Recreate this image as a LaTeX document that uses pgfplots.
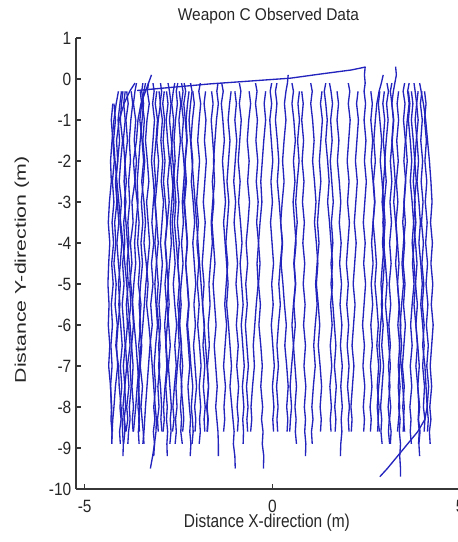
\documentclass[border=0pt]{standalone}
\usepackage{pgfplots}
\usepackage{pgfplotstable}
\pgfplotsset{compat=1.18}
\usepackage{fontspec}
\setmainfont{Liberation Sans}
\definecolor{trajblue}{RGB}{35,35,190}
\definecolor{axgray}{RGB}{55,55,55}

% one row per trajectory: x position at the y levels given in row "y"
\pgfplotstableread{
traj c0 c1 c2 c3 c4 c5 c6 c7 c8 c9 c10 c11 c12 c13 c14 c15 c16 c17 c18 c19 c20 c21 c22 c23 c24 c25
y 0.3 0.1 -0.1 -0.3 -0.6 -1 -1.5 -2 -2.5 -3 -3.5 -4 -4.5 -5 -5.5 -6 -6.5 -7 -7.5 -8 -8.3 -8.6 -8.9 -9.2 -9.5 -9.7
t1 nan nan nan -4.10 -4.16 -4.22 -4.27 -4.31 -4.29 -4.34 -4.37 -4.33 -4.36 -4.38 -4.35 -4.37 -4.33 -4.36 -4.31 -4.29 -4.27 -4.26 nan nan nan nan
t2 nan nan -3.66 -3.80 -3.95 -4.08 -4.15 -4.12 -4.18 -4.14 -4.20 -4.17 -4.22 -4.16 -4.19 -4.13 -4.17 -4.10 -4.08 -4.03 -4.00 -3.99 -3.97 -3.98 nan nan
t3 nan -3.22 -3.30 -3.38 -3.50 -3.58 -3.62 -3.70 -3.66 -3.74 -3.71 -3.78 -3.74 -3.80 -3.77 -3.83 -3.79 -3.86 -3.82 -3.88 -3.85 -3.90 nan nan nan nan
t4 nan nan nan -3.98 -4.02 -4.05 -3.99 -4.04 -4.08 -4.02 -4.06 -4.01 -4.05 -4.10 -4.06 -4.11 -4.15 -4.12 -4.18 -4.22 -4.25 -4.27 -4.28 nan nan nan
t5 nan nan nan -3.88 -3.84 -3.90 -3.86 -3.92 -3.95 -3.90 -3.96 -3.93 -3.99 -3.95 -4.00 -3.96 -3.92 -3.97 -3.93 -3.98 -3.94 -3.91 nan nan nan nan
t6 nan nan -3.62 -3.66 -3.70 -3.64 -3.68 -3.62 -3.66 -3.60 -3.55 -3.59 -3.53 -3.57 -3.50 -3.54 -3.48 -3.52 -3.46 -3.50 -3.47 -3.44 -3.42 nan nan nan
t7 nan nan nan -3.52 -3.48 -3.53 -3.47 -3.43 -3.48 -3.42 -3.38 -3.42 -3.36 -3.31 -3.35 -3.29 -3.24 -3.20 -3.16 -3.12 -3.09 -3.10 -3.14 -3.19 -3.25 nan
t8 nan nan -3.30 -3.33 -3.28 -3.34 -3.38 -3.33 -3.29 -3.35 -3.31 -3.27 -3.32 -3.37 -3.41 -3.45 -3.50 -3.55 -3.60 -3.64 -3.67 -3.70 nan nan nan nan
t9 nan nan nan -3.08 -3.12 -3.06 -3.10 -3.15 -3.11 -3.17 -3.21 -3.16 -3.22 -3.18 -3.24 -3.20 -3.26 -3.30 -3.34 -3.38 -3.40 -3.42 -3.45 nan nan nan
t10 nan nan -2.98 -2.95 -2.99 -2.93 -2.97 -2.92 -2.96 -2.90 -2.94 -2.98 -2.93 -2.97 -3.02 -2.98 -3.03 -3.00 -3.05 -3.02 -3.06 -3.04 nan nan nan nan
t11 nan nan nan -2.82 -2.78 -2.83 -2.79 -2.74 -2.79 -2.75 -2.80 -2.85 -2.81 -2.86 -2.82 -2.87 -2.83 -2.79 -2.84 -2.80 -2.82 -2.79 -2.81 -2.80 nan nan
t12 nan nan -2.60 -2.64 -2.68 -2.63 -2.67 -2.71 -2.66 -2.62 -2.67 -2.63 -2.59 -2.64 -2.60 -2.55 -2.60 -2.56 -2.61 -2.65 -2.62 -2.66 nan nan nan nan
t13 nan nan nan -2.48 -2.44 -2.49 -2.45 -2.50 -2.54 -2.49 -2.53 -2.48 -2.52 -2.47 -2.43 -2.47 -2.42 -2.46 -2.41 -2.45 -2.42 -2.44 -2.40 nan nan nan
t14 nan nan -2.35 -2.31 -2.36 -2.32 -2.28 -2.33 -2.29 -2.34 -2.30 -2.26 -2.31 -2.27 -2.23 -2.28 -2.24 -2.20 -2.25 -2.21 -2.18 -2.20 -2.17 -2.19 nan nan
t15 nan nan nan -2.12 -2.08 -2.13 -2.17 -2.12 -2.16 -2.11 -2.07 -2.12 -2.08 -2.04 -2.09 -2.05 -2.10 -2.06 -2.02 -2.07 -2.04 -2.06 nan nan nan nan
t16 nan nan -1.92 -1.96 -1.91 -1.95 -1.99 -1.94 -1.98 -2.02 -1.97 -2.01 -1.96 -2.00 -1.95 -1.99 -1.94 -1.90 -1.95 -1.91 -1.94 -1.92 -1.95 nan nan nan
t17 nan nan nan -1.78 -1.82 -1.77 -1.81 -1.76 -1.80 -1.84 -1.79 -1.83 -1.87 -1.82 -1.86 -1.81 -1.85 -1.80 -1.84 -1.79 -1.82 -1.80 nan nan nan nan
t18 nan nan nan nan -4.22 -4.18 -4.23 -4.19 -4.14 -4.09 -4.04 -3.98 -3.93 -3.88 -3.84 -3.79 -3.75 -3.71 -3.74 -3.70 -3.73 -3.71 nan nan nan nan
t19 nan nan -3.45 -3.48 -3.43 -3.47 -3.52 -3.56 -3.60 -3.58 -3.63 -3.67 -3.64 -3.69 -3.73 -3.70 -3.75 -3.79 -3.76 -3.81 -3.79 -3.83 -3.85 nan nan nan
t20 nan nan nan -3.02 -2.98 -3.04 -3.08 -3.03 -3.07 -3.12 -3.08 -3.04 -3.09 -3.13 -3.10 -3.06 -3.11 -3.15 -3.11 -3.16 -3.13 -3.17 -3.14 -3.16 nan nan
t21 nan nan -2.52 -2.56 -2.53 -2.58 -2.62 -2.59 -2.64 -2.68 -2.72 -2.69 -2.74 -2.78 -2.75 -2.80 -2.84 -2.81 -2.86 -2.90 -2.88 -2.91 nan nan nan nan
t22 nan nan nan -2.22 -2.26 -2.30 -2.27 -2.32 -2.36 -2.40 -2.37 -2.42 -2.38 -2.43 -2.47 -2.51 -2.48 -2.53 -2.57 -2.54 -2.58 -2.56 -2.59 nan nan nan
t23 nan nan nan -3.76 -3.72 -3.77 -3.81 -3.78 -3.83 -3.80 -3.85 -3.82 -3.87 -3.84 -3.89 -3.86 -3.91 -3.88 -3.93 -3.91 -3.95 -3.93 -3.96 nan nan nan
t24 nan nan nan nan -4.25 -4.29 -4.25 -4.21 -4.26 -4.22 -4.27 -4.23 -4.28 -4.24 -4.29 -4.26 -4.30 -4.27 -4.31 -4.28 -4.30 -4.27 -4.28 nan nan nan
t25 nan nan -3.18 -3.15 -3.19 -3.14 -3.18 -3.22 -3.17 -3.13 -3.09 -3.13 -3.08 -3.04 -3.08 -3.03 -2.99 -3.03 -2.98 -2.95 -2.97 -2.94 nan nan nan nan
t26 nan nan -2.78 -2.74 -2.70 -2.74 -2.69 -2.65 -2.61 -2.57 -2.61 -2.56 -2.52 -2.48 -2.52 -2.47 -2.43 -2.39 -2.43 -2.38 -2.36 -2.39 nan nan nan nan
t27 nan nan nan -1.62 -1.58 -1.63 -1.59 -1.55 -1.60 -1.56 -1.61 -1.57 -1.53 -1.58 -1.54 -1.50 -1.55 -1.51 -1.47 -1.51 -1.48 -1.45 -1.44 -1.44 nan nan
t28 nan nan -1.35 -1.31 -1.36 -1.32 -1.28 -1.33 -1.29 -1.25 -1.30 -1.26 -1.22 -1.18 -1.22 -1.17 -1.13 -1.09 -1.13 -1.08 -1.05 -1.02 -1.04 -1.00 -0.99 nan
t29 nan nan nan -1.10 -1.14 -1.18 -1.13 -1.17 -1.21 -1.16 -1.20 -1.24 -1.19 -1.23 -1.27 -1.22 -1.26 -1.30 -1.25 -1.29 -1.27 -1.30 nan nan nan nan
t30 nan nan -0.88 -0.84 -0.88 -0.83 -0.87 -0.91 -0.86 -0.90 -0.85 -0.81 -0.86 -0.82 -0.78 -0.83 -0.79 -0.75 -0.80 -0.76 -0.79 -0.77 -0.78 nan nan nan
t31 nan nan nan -0.62 -0.58 -0.63 -0.67 -0.62 -0.66 -0.61 -0.65 -0.70 -0.66 -0.71 -0.67 -0.72 -0.68 -0.64 -0.69 -0.65 -0.68 -0.66 nan nan nan nan
t32 nan nan -0.45 -0.41 -0.45 -0.40 -0.44 -0.39 -0.43 -0.38 -0.42 -0.37 -0.33 -0.37 -0.32 -0.36 -0.31 -0.27 -0.31 -0.26 -0.29 -0.25 -0.27 -0.23 -0.24 nan
t33 nan nan nan -0.18 -0.22 -0.18 -0.23 -0.27 -0.31 -0.28 -0.33 -0.37 -0.41 -0.38 -0.43 -0.47 -0.51 -0.48 -0.53 -0.57 -0.55 -0.58 nan nan nan nan
t34 nan nan -1.45 -1.48 -1.44 -1.49 -1.53 -1.57 -1.54 -1.59 -1.63 -1.60 -1.65 -1.69 -1.66 -1.71 -1.68 -1.73 -1.70 -1.75 -1.72 -1.74 nan nan nan nan
t35 nan nan -0.02 -0.06 -0.02 -0.07 -0.03 0.01 -0.04 0.00 -0.05 -0.01 0.03 -0.02 0.02 -0.03 0.01 0.05 0.00 0.04 0.01 0.03 nan nan nan nan
t36 nan 0.42 0.40 0.36 0.32 0.36 0.31 0.27 0.31 0.26 0.22 0.26 0.21 0.17 0.21 0.16 0.12 0.16 0.11 0.15 0.12 0.14 nan nan nan nan
t37 nan nan 0.52 0.56 0.52 0.57 0.61 0.56 0.60 0.55 0.59 0.63 0.58 0.62 0.57 0.61 0.56 0.60 0.64 0.60 0.63 0.61 0.64 nan nan nan
t38 nan nan nan 0.78 0.82 0.78 0.83 0.79 0.84 0.80 0.85 0.81 0.86 0.82 0.87 0.83 0.88 0.84 0.89 0.85 0.88 0.86 0.89 0.88 nan nan
t39 nan nan 1.02 1.06 1.02 1.07 1.11 1.07 1.12 1.16 1.12 1.17 1.21 1.17 1.22 1.26 1.22 1.27 1.31 1.27 1.30 1.28 nan nan nan nan
t40 nan nan nan 1.32 1.28 1.33 1.29 1.25 1.29 1.24 1.20 1.24 1.19 1.15 1.19 1.14 1.10 1.14 1.09 1.05 1.08 1.04 1.06 nan nan nan
t41 nan nan 1.52 1.56 1.60 1.55 1.59 1.54 1.58 1.62 1.57 1.61 1.56 1.60 1.55 1.59 1.54 1.58 1.53 1.57 1.54 1.56 nan nan nan nan
t42 nan nan nan 1.72 1.76 1.72 1.77 1.73 1.78 1.82 1.78 1.83 1.79 1.84 1.80 1.85 1.81 1.86 1.82 1.86 1.83 1.85 1.82 1.81 nan nan
t43 nan nan 2.02 2.06 2.02 2.07 2.03 1.99 2.04 2.00 2.05 2.01 1.97 2.02 1.98 2.03 1.99 2.04 2.00 2.05 2.02 2.04 nan nan nan nan
t44 nan nan nan 2.28 2.24 2.29 2.25 2.21 2.26 2.22 2.18 2.23 2.19 2.15 2.20 2.16 2.12 2.17 2.13 2.09 2.12 2.10 nan nan nan nan
t45 2.47 2.45 2.47 2.44 2.48 2.44 2.49 2.45 2.50 2.46 2.42 2.47 2.43 2.48 2.44 2.40 2.45 2.41 2.46 2.42 2.45 2.43 nan nan nan nan
t46 nan nan 0.12 0.08 0.12 0.08 0.13 0.17 0.13 0.18 0.22 0.27 0.23 0.28 0.32 0.37 0.33 0.38 0.42 0.38 0.41 0.39 nan nan nan nan
t47 nan nan nan 0.72 0.68 0.72 0.67 0.71 0.66 0.62 0.66 0.61 0.57 0.61 0.56 0.52 0.56 0.51 0.47 0.51 0.48 0.46 nan nan nan nan
t48 nan nan 1.42 1.38 1.42 1.46 1.42 1.47 1.51 1.47 1.52 1.56 1.60 1.56 1.61 1.65 1.69 1.65 1.70 1.66 1.69 1.67 nan nan nan nan
t49 nan 2.95 2.90 2.84 2.78 2.74 2.70 2.74 2.69 2.73 2.68 2.64 2.68 2.63 2.67 2.62 2.66 2.61 2.65 2.60 2.63 2.61 nan nan nan nan
t50 nan nan nan 2.98 2.94 2.99 2.95 3.00 2.96 2.92 2.97 2.93 2.98 2.94 2.90 2.95 2.91 2.96 2.92 2.88 2.91 2.89 2.92 nan nan nan
t51 3.28 3.30 3.26 3.22 3.18 3.23 3.19 3.14 3.18 3.13 3.17 3.12 3.16 3.11 3.15 3.10 3.14 3.09 3.13 3.08 3.11 3.09 3.12 nan nan nan
t52 nan nan nan 3.36 3.32 3.36 3.31 3.35 3.30 3.34 3.29 3.33 3.37 3.33 3.38 3.34 3.39 3.35 3.40 3.36 3.40 3.38 3.41 3.39 3.41 3.41
t53 nan nan 3.52 3.48 3.53 3.49 3.54 3.50 3.55 3.51 3.47 3.52 3.48 3.53 3.49 3.54 3.50 3.46 3.51 3.47 3.50 3.48 nan nan nan nan
t54 nan nan nan 3.62 3.66 3.62 3.67 3.71 3.67 3.72 3.76 3.72 3.77 3.81 3.77 3.82 3.86 3.82 3.87 3.90 3.88 3.91 3.89 nan nan nan
t55 nan nan 3.77 3.80 3.84 3.80 3.85 3.89 3.85 3.90 3.94 3.90 3.95 3.99 3.95 4.00 4.04 4.00 4.05 4.02 4.06 4.04 nan nan nan nan
t56 nan nan 3.92 3.96 4.02 4.08 4.13 4.18 4.22 4.25 4.21 4.26 4.22 4.27 4.23 4.28 4.24 4.20 4.24 4.19 4.22 4.18 4.20 nan nan nan
t57 nan nan nan 4.05 4.09 4.05 4.10 4.06 4.11 4.07 4.12 4.08 4.13 4.09 4.14 4.10 4.15 4.11 4.16 4.12 4.15 4.13 nan nan nan nan
t58 nan nan 3.64 3.60 3.64 3.59 3.55 3.59 3.54 3.50 3.54 3.49 3.45 3.49 3.44 3.40 3.44 3.39 3.35 3.39 3.36 3.33 nan nan nan nan
t59 nan nan nan 2.86 2.82 2.86 2.91 2.87 2.92 2.96 3.00 2.96 3.01 3.05 3.01 3.06 3.10 3.14 3.10 3.15 3.12 3.16 3.14 nan nan nan
t60 nan nan nan 3.98 3.94 3.99 3.95 4.00 3.96 4.01 3.97 4.02 3.98 4.03 3.99 4.04 4.00 4.06 4.09 4.12 4.06 3.87 3.60 3.33 3.06 2.86
t61 nan nan 3.18 3.14 3.18 3.22 3.18 3.23 3.27 3.23 3.28 3.32 3.28 3.33 3.37 3.42 3.38 3.43 3.47 3.51 3.49 3.52 nan nan nan nan
t62 nan nan nan 2.62 2.66 2.62 2.67 2.63 2.68 2.72 2.68 2.73 2.77 2.73 2.78 2.82 2.78 2.83 2.79 2.84 2.81 2.85 nan nan nan nan
t63 nan nan nan 3.88 3.84 3.88 3.83 3.79 3.83 3.78 3.82 3.77 3.73 3.77 3.72 3.68 3.72 3.67 3.71 3.66 3.69 3.67 3.70 nan nan nan
t64 nan nan nan -3.92 -3.96 -3.92 -3.97 -3.93 -3.89 -3.94 -3.90 -3.86 -3.81 -3.77 -3.72 -3.68 -3.63 -3.59 -3.55 -3.58 -3.54 -3.57 -3.55 nan nan nan
t65 nan nan -2.18 -2.14 -2.18 -2.22 -2.18 -2.14 -2.10 -2.06 -2.02 -1.98 -1.94 -1.90 -1.86 -1.82 -1.78 -1.74 -1.70 -1.74 -1.71 -1.73 nan nan nan nan
t66 nan nan nan -1.00 -0.96 -1.00 -0.95 -0.99 -1.03 -0.98 -1.02 -0.97 -0.93 -0.97 -0.92 -0.96 -0.91 -0.95 -0.90 -0.94 -0.91 -0.93 nan nan nan nan
t67 nan nan nan -4.02 -4.06 -4.11 -4.07 -4.12 -4.17 -4.13 -4.09 -4.14 -4.10 -4.05 -4.09 -4.04 -4.00 -4.05 -4.01 -4.06 -4.03 -4.07 -4.05 nan nan nan
t68 nan nan -3.38 -3.42 -3.46 -3.41 -3.45 -3.40 -3.44 -3.49 -3.45 -3.50 -3.46 -3.51 -3.55 -3.51 -3.56 -3.52 -3.57 -3.53 -3.56 -3.54 nan nan nan nan
t69 nan nan nan -2.88 -2.92 -2.87 -2.91 -2.86 -2.90 -2.85 -2.81 -2.86 -2.82 -2.77 -2.81 -2.76 -2.72 -2.77 -2.73 -2.69 -2.72 -2.70 -2.73 nan nan nan
t70 nan nan -2.42 -2.38 -2.42 -2.37 -2.41 -2.36 -2.32 -2.36 -2.31 -2.27 -2.31 -2.26 -2.22 -2.26 -2.21 -2.17 -2.12 -2.16 -2.13 -2.11 -2.14 nan nan nan
t71 nan nan 3.05 3.09 3.04 3.08 3.03 2.99 3.03 2.98 2.94 2.98 2.93 2.89 2.93 2.88 2.84 2.88 2.83 2.79 2.82 2.80 nan nan nan nan
t72 nan nan nan 3.70 3.74 3.70 3.75 3.79 3.75 3.80 3.76 3.81 3.85 3.81 3.86 3.82 3.87 3.91 3.87 3.92 3.89 3.93 3.90 3.92 nan nan
}\rawtraj
\pgfplotstabletranspose[colnames from=traj]{\traj}{\rawtraj}

\begin{document}
\begin{tikzpicture}
\begin{axis}[
  scale only axis,
  width=295.2pt, height=338.25pt,
  at={(0,0)}, anchor=south west,
  xmin=-5.23, xmax=5.25, ymin=-10, ymax=1,
  axis x line*=bottom, axis y line*=left,
  xtick={-5,0,5}, xticklabels={-5,0,5},
  ytick={-10,-9,-8,-7,-6,-5,-4,-3,-2,-1,0,1},
  yticklabels={-10,-9,-8,-7,-6,-5,-4,-3,-2,-1,0,1},
  tick align=inside, major tick length=4pt,
  axis line style={axgray, line width=0.8pt},
  every tick/.style={axgray, line width=0.8pt},
  tick label style={font=\fontsize{11.6}{13}\selectfont, text=black!85, yscale=1.15},
  xticklabel style={anchor=base, yshift=-15.3pt},
  label style={font=\fontsize{11.6}{13}\selectfont, text=black!85},
  title style={font=\fontsize{11.6}{13}\selectfont, text=black!85,
    at={(axis description cs:0.489,1.0377)}, anchor=base, yshift=-6pt, yscale=1.1},
  title={Weapon C Observed Data},
  xlabel={Distance X-direction (m)},
  ylabel={Distance Y-direction (m)},
  xlabel style={at={(axis description cs:0.485,-0.0843)}, anchor=base, yscale=1.2},
  ylabel style={at={(axis description cs:-0.1372,0.486)}, anchor=center, xscale=1.38},
  unbounded coords=discard,
  clip=false,
]
\pgfplotsinvokeforeach{1,...,72}{
  \addplot[trajblue, line width=1.0pt, line join=round, mark=none] table[x=t#1, y=y] {\traj};
}
\addplot[trajblue, line width=1.0pt, mark=none] coordinates {
  (-3.60,-0.28) (-1.67,-0.12) (0.48,0.02) (1.27,0.12) (2.10,0.22) (2.47,0.29)
};
\end{axis}
\pgfresetboundingbox
\useasboundingbox (-57pt,-39.75pt) rectangle (285.75pt,366.75pt);
\end{tikzpicture}
\end{document}
